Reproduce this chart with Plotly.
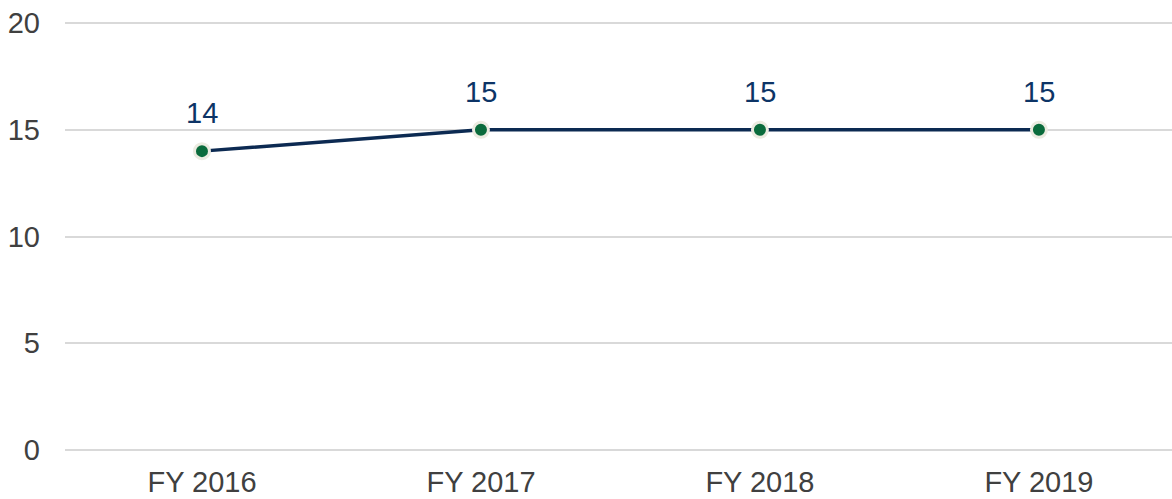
import plotly.graph_objects as go

categories = ["FY 2016", "FY 2017", "FY 2018", "FY 2019"]
values = [14, 15, 15, 15]
y_ticks = [0, 5, 10, 15, 20]

fig = go.Figure()
fig.add_trace(go.Scatter(
    x=categories, y=values, mode="lines+markers",
    line=dict(color="#0c2a52", width=3.5),
    marker=dict(color="#0a6b3c", size=15, line=dict(color="#ebebe0", width=3)),
    hoverinfo="skip", showlegend=False, cliponaxis=False,
))
for c, v in zip(categories, values):
    fig.add_annotation(x=c, y=v, text=str(v), showarrow=False, yshift=38,
                       font=dict(family="Liberation Sans, Arial", size=29, color="#0d3466"))

fig.update_layout(
    width=1172, height=499,
    margin=dict(l=65, r=0, t=22, b=48, autoexpand=False),
    paper_bgcolor="white", plot_bgcolor="white",
    font=dict(family="Liberation Sans, Arial", size=29, color="#404040"),
    xaxis=dict(type="category", range=[-0.491, 3.477], showgrid=False, showline=False,
               zeroline=False, ticks="", ticklabelstandoff=11, automargin=False,
               tickfont=dict(size=29, color="#404040")),
    yaxis=dict(range=[-0.05, 20.05], tickvals=y_ticks, showgrid=True, gridcolor="#d9d9d9",
               gridwidth=2, zeroline=False, showline=False, ticks="", automargin=False,
               ticklabelstandoff=24, tickfont=dict(size=29, color="#404040")),
)
fig.write_html("out.html", config={"displayModeBar": False},
               post_script="document.body.style.margin='0';document.body.style.overflow='hidden';")
